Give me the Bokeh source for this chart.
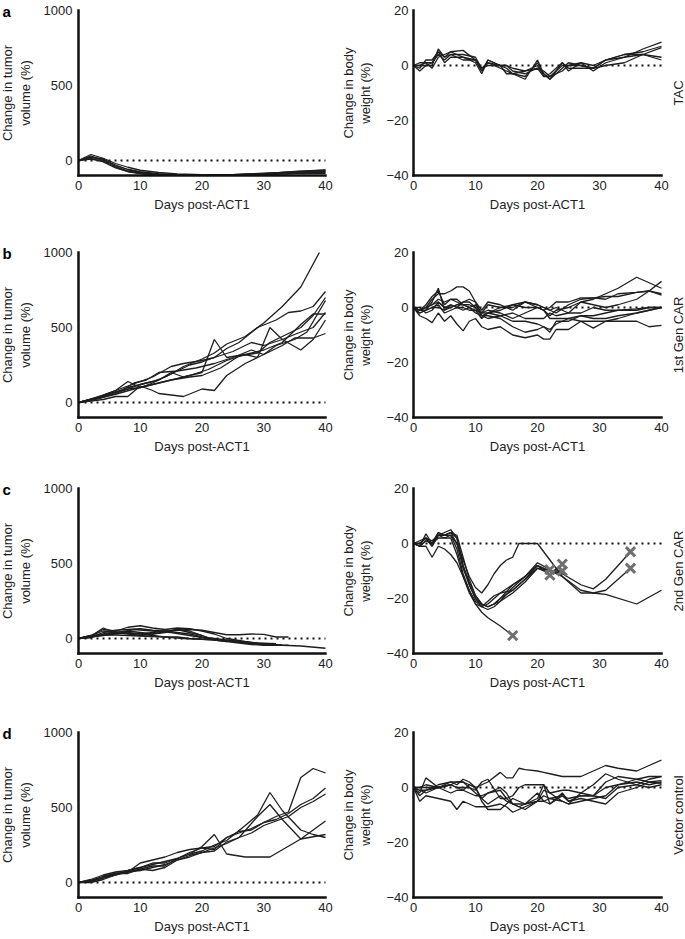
import math
from bokeh.plotting import figure
from bokeh.models import FixedTicker, Label, LinearAxis, Range1d
from bokeh.core.properties import value
from bokeh.core.property.dataspec import DataSpec
from bokeh.layouts import row, column
from bokeh.embed import file_html
from bokeh.resources import INLINE

# ---------------- data ----------------
panel_letters = ["a", "b", "c", "d"]
group_labels = ["TAC", "1st Gen CAR", "2nd Gen CAR", "Vector control"]
x_ticks = [0, 10, 20, 30, 40]
tumor_ticks = [0, 500, 1000]
tumor_limits = [-100, 1000]
weight_ticks = [-40, -20, 0, 20]
weight_limits = [-40, 20]
weight_tick_labels = {-40: "\u221240", -20: "\u221220", 0: "0", 20: "20"}

# a: TAC tumor volume (%)
a_tumor_days = [0, 2, 4, 6, 8, 10, 13, 16, 20, 25, 30, 35, 40]
a_tumor_vals = [
    [0, 40, 15, -20, -45, -65, -80, -90, -95, -95, -88, -75, -65],
    [0, 30, 5, -35, -60, -75, -88, -95, -97, -95, -85, -78, -70],
    [0, 20, 10, -30, -60, -80, -92, -97, -98, -96, -90, -80, -75],
    [0, 10, -5, -40, -70, -85, -95, -98, -98, -97, -92, -85, -80],
    [0, 25, 0, -45, -72, -86, -94, -97, -96, -94, -88, -72, -62],
    [0, 15, -10, -50, -75, -88, -95, -98, -98, -98, -94, -88, -85],
]
# a: TAC body weight (%)
a_weight_days = [0, 1, 2, 3, 4, 5, 6, 8, 10, 11, 12, 14, 15, 16, 18, 20, 21, 22, 24, 25, 27, 29, 31, 34, 37, 40]
a_weight_vals = [
    [0, -2, 0, 0, 6, 3, 5, 5.5, 2, -2, 2, 0, -1, -3, -5, 2, -3, -5, 1, -2, 1, -2, 1, 3, 6, 8.5],
    [0, 0, 1, 1, 4, 2, 4, 4, 3, -1, 1, 0, 0, -2, -3, -1, -4, -4, 0, 0, 0, -1, 2, 4, 4, 3],
    [0, -1, 2, 2, 5, 1, 3, 3, 1, -3, 2, 0, -3, -3, -2, 0, -3, -5, -1, 1, 0, -1, 0, 1, 4, 6.5],
    [0, 1, 1, -1, 3, 4, 5, 3, 2, -1, 0, 0, 0, -1, -2, -1, -2, -4, -2, 0, 1, 0, 2, 3, 4, 2],
    [0, 0, 0, 1, 5, 3, 4, 2, 2, -2, 1, -1, -2, -3, -4, 1, -4, -3, 1, -1, -1, -1, 2, 4, 5, 7],
]

# b: 1st Gen CAR tumor volume (%)
b_tumor_days = [
    [0, 2, 4, 6, 8, 10, 13, 15, 17, 20, 22, 24, 27, 30, 33, 36, 39],
    [0, 2, 4, 6, 8, 10, 12, 14, 16, 18, 20, 22, 24, 26, 29, 32, 34, 36, 38, 40],
    [0, 2, 4, 6, 8, 10, 12, 13, 15, 17, 20, 22, 24, 27, 29, 31, 33, 36, 38, 40],
    [0, 2, 4, 6, 8, 10, 12, 13, 15, 17, 20, 22, 24, 27, 29, 31, 33, 35, 38, 40],
    [0, 2, 4, 6, 8, 10, 12, 15, 17, 20, 22, 25, 28, 30, 33, 36, 38, 40],
    [0, 3, 5, 8, 10, 13, 15, 18, 20, 23, 26, 29, 31, 34, 36, 38, 40],
    [0, 2, 4, 7, 9, 11, 13, 16, 19, 22, 25, 28, 30, 32, 35, 37, 40],
    [0, 3, 6, 9, 12, 15, 18, 21, 24, 27, 30, 33, 36, 38, 40],
]
b_tumor_vals = [
    [0, 20, 40, 70, 100, 120, 150, 190, 240, 290, 330, 390, 440, 530, 640, 770, 1000],
    [0, 15, 35, 60, 90, 120, 140, 170, 210, 250, 270, 300, 360, 400, 500, 550, 600, 610, 640, 740],
    [0, 20, 50, 80, 140, 100, 130, 150, 200, 170, 200, 420, 300, 320, 300, 500, 420, 350, 420, 550],
    [0, 10, 20, 40, 40, 110, 80, 60, 50, 40, 90, 80, 180, 260, 300, 340, 380, 430, 430, 460],
    [0, 25, 50, 80, 110, 140, 170, 240, 260, 280, 300, 340, 400, 380, 420, 470, 500, 600],
    [0, 30, 60, 90, 100, 130, 150, 170, 180, 230, 310, 330, 400, 460, 500, 580, 700],
    [0, 20, 40, 80, 130, 150, 200, 210, 230, 260, 300, 350, 320, 380, 420, 470, 680],
    [0, 25, 55, 90, 120, 150, 180, 220, 280, 320, 350, 400, 520, 590, 590],
]
# b: 1st Gen CAR body weight (%)
b_weight_days = [0, 1, 2, 3, 4, 5, 6, 7, 8, 9, 10, 11, 12, 14, 16, 18, 20, 21, 22, 23, 25, 27, 29, 31, 33, 36, 38, 40]
b_weight_vals = [
    [0, -1, 1, 4, 6, 1, 3, 2, 1, 0, 1, -2, -1, -2, -4, -2, 0, -1, -3, -1, 0, 2, 3, 5, 7, 11, 9, 7],
    [0, -1, 0, 3, 5, 5, 6, 7.5, 7.5, 6, 2, -3, -2, -1, 1, 2, 1, 0, -1, -2, 1, 3, 3.5, 4, 4, 5.5, 6, 5],
    [0, -3, -4, -5.5, -2, -5, -3, -6, -8.5, -5, -4, -7, -8, -7, -10, -11, -10, -11.5, -11.5, -8, -8, -5, -7.5, -5, -5, -5, -7, -6.5],
    [0, -2, -1, 2, 7, -1, 0, 1, 2, 2, 0, -3, -3, -4, -7, -9, -8, -7, -9, -5, -5, -3, -4, -4, -3, -2, -1, 0],
    [0, 0, -2, -1, 2, 0, 1, 0, 2, 3, 2, -1, 2, 1, -1, 2, 1, 0, -1, 0, -2, 2, 1, 0, 1, 3, 6, 9.5],
    [0, -1, -1, 0, 1, -2, -1, 0, -1, 0, -2, -3, -4, -3, -5, -5, -6, -7, -8, -6, -4, -3, -3, -2, -1, -1, 0, 0],
    [0, -2, -1, 0, 0, -1, 1, 0, 0, -1, -1, -4, -2, -3, -2, -4, -4, -4, -2, -3, -2, -2, 0, -1, -1, -0.5, 0, 0],
    [0, -1, 0, 1, 2, 0, 0, 1, 1, 1, 0, -2, 1, 0, 1, 0, 0, -1, -4, -4, -4, -5, -5, -5, -4, -2, -1, 0],
    [0, -1, 0, 1, 3, 2, 3, 3, 1, 0, -1, -2, -2, 0, 0, 2, 0, -1, 0, 2, 2, 3.5, 3.5, 3, 5, 5.5, 6, 4.5],
]

# c: 2nd Gen CAR tumor volume (%)
c_tumor_days = [
    [0, 2, 4, 6, 8, 10, 12, 14, 16, 18, 20, 22, 24, 27, 30, 33, 36, 40],
    [0, 2, 4, 6, 8, 10, 12, 14, 16, 18, 20, 22, 24, 26, 28, 30, 32, 34],
    [0, 2, 4, 6, 8, 10, 12, 14, 16, 18, 20, 22, 24, 26, 28, 30, 32, 34],
    [0, 2, 4, 6, 8, 10, 12, 14, 16, 18, 20, 22, 24, 26, 28, 30],
    [0, 2, 4, 6, 8, 10, 12, 14, 16, 18, 20, 22, 24],
    [0, 2, 4, 6, 8, 10, 12, 14, 16, 18, 20, 22],
    [0, 3, 6, 9, 12, 15, 18, 21, 24, 27, 30, 33],
    [0, 2, 5, 8, 11, 14, 17, 20, 23, 26, 29, 32],
]
c_tumor_vals = [
    [0, 20, 60, 50, 75, 85, 70, 60, 70, 65, 50, 30, 0, -20, -35, -45, -50, -65],
    [0, 10, 40, 55, 60, 65, 55, 50, 55, 60, 55, 40, 25, 25, 30, 28, 10, 10],
    [0, 15, 70, 40, 50, 40, 30, 45, 60, 40, 20, -10, -20, -30, -40, -45, -45, -45],
    [0, 5, 30, 45, 35, 30, 40, 50, 40, 30, 10, 0, -10, -20, -30, -40],
    [0, 10, 20, 30, 40, 30, 20, 10, 10, 0, -5, -10, -20],
    [0, 20, 50, 40, 30, 20, 30, 40, 60, 50, 20, -10],
    [0, 25, 35, 60, 50, 40, 20, 0, -15, -30, -40, -45],
    [0, 15, 25, 20, 15, 10, 0, -5, -10, -20, -30, -35],
]
# c: 2nd Gen CAR body weight (%)
c_weight_days = [
    [0, 1, 2, 3, 4, 5, 6, 7, 8, 9, 10, 11, 12, 13, 14, 16, 18, 20, 22],
    [0, 1, 2, 3, 4, 5, 6, 7, 8, 9, 10, 11, 12, 13, 14, 16, 18, 20, 22],
    [0, 1, 2, 3, 4, 5, 6, 7, 8, 9, 10, 11, 12, 13, 14, 16, 18, 20, 22, 24],
    [0, 1, 2, 3, 4, 5, 6, 7, 8, 9, 10, 11, 12, 13, 14, 16, 18, 20, 22, 24],
    [0, 1, 2, 3, 4, 5, 6, 7, 8, 9, 10, 11, 12, 14, 16],
    [0, 1, 2, 3, 4, 5, 6, 7, 8, 9, 10, 11, 12, 13, 14, 15, 16, 17, 20, 22, 24, 27, 29, 31, 36, 40],
    [0, 1, 2, 3, 4, 5, 6, 7, 8, 9, 10, 11, 12, 13, 14, 16, 18, 20, 22, 24, 27, 29, 31, 33, 35],
    [0, 1, 2, 3, 4, 5, 6, 7, 8, 9, 10, 11, 12, 13, 14, 16, 18, 20, 22, 24, 27, 29, 31, 33, 35],
]
c_weight_vals = [
    [0, -1, 3.5, 0, 4, 3, 4, 0, -9, -15, -20, -22, -23, -22, -20, -15, -12, -7, -9.5],
    [0, 0, 2, -1, 3, 3, 3, -2, -11, -17, -21, -23, -22, -20, -18, -17, -13, -8, -11.5],
    [0, 1, 2, 1, 3, 4, 5, 2, -8, -14, -19, -22, -23, -22, -21, -18, -14, -9, -11, -7.5],
    [0, -1, 1, 0, 2, 2, 2, -4, -12, -18, -22, -23, -21, -19, -18, -15, -12, -8, -10, -10],
    [0, -1, -1, -5, -1, -2, -4, -7, -12, -17, -22, -25, -27, -30, -33.5],
    [0, 0, 2, -1, 3, 2, 3, 0, -6, -12, -16, -18, -15, -11, -8, -6, -5, 0, 0, -6, -12, -18, -18, -18.5, -22, -17],
    [0, -1, 1, 0, 3, 3, 4, 3, -5, -13, -19, -22, -23, -22, -20, -17, -13, -9, -10, -11, -15, -16.5, -13, -8, -3],
    [0, 0, 2, 0, 4, 3, 4, 2, -8, -15, -20, -23, -24, -23, -21, -16, -12, -8, -10, -12, -17, -18, -17, -13, -9],
]
# c: animals euthanised (X marks)
c_death_days = [16, 22, 22, 24, 24, 35, 35]
c_death_vals = [-33.5, -9.5, -11.5, -7.5, -10, -3, -9]

# d: Vector control tumor volume (%)
d_tumor_days = [
    [0, 2, 4, 6, 8, 10, 12, 14, 16, 18, 20, 22, 24, 26, 28, 30, 32, 34, 36, 38, 40],
    [0, 2, 4, 6, 8, 10, 12, 14, 16, 18, 20, 22, 24, 27, 29, 31, 33, 36, 38, 40],
    [0, 2, 4, 6, 8, 10, 12, 14, 16, 18, 20, 22, 24, 26, 29, 31, 33, 36, 40],
    [0, 2, 4, 6, 8, 10, 12, 14, 16, 18, 20, 22, 24, 27, 31, 36, 40],
    [0, 2, 4, 6, 8, 10, 12, 14, 16, 18, 20, 22, 24, 26, 28, 30, 32, 34, 36, 38, 40],
    [0, 2, 4, 6, 8, 10, 12, 14, 16, 18, 20, 22, 24, 26, 28, 30, 32, 34, 36, 38, 40],
]
d_tumor_vals = [
    [0, 10, 40, 60, 70, 130, 150, 170, 200, 220, 230, 240, 300, 330, 360, 400, 440, 470, 700, 760, 730],
    [0, 5, 30, 50, 80, 100, 120, 140, 160, 190, 210, 250, 280, 380, 450, 600, 480, 350, 320, 300],
    [0, 15, 40, 60, 70, 80, 100, 120, 150, 180, 200, 230, 260, 300, 440, 520, 420, 290, 320],
    [0, 0, 20, 50, 70, 90, 110, 110, 160, 190, 240, 320, 190, 170, 170, 290, 410],
    [0, 10, 30, 60, 60, 90, 80, 100, 150, 170, 200, 210, 270, 300, 330, 380, 410, 440, 500, 540, 590],
    [0, 20, 50, 70, 80, 100, 130, 130, 160, 200, 230, 220, 300, 340, 350, 400, 420, 460, 520, 560, 630],
]
# d: Vector control body weight (%)
d_weight_days = [0, 1, 2, 4, 6, 7, 8, 9, 10, 11, 12, 14, 15, 16, 17, 18, 20, 21, 22, 24, 25, 27, 29, 31, 33, 36, 38, 40]
d_weight_vals = [
    [0, -1, -2, 0, 2, 2, 2, 1, 0, 1, 2, 5.5, 3.5, 3.5, 7, 6.5, 6, 5.5, 5, 4, 4, 4, 6, 8, 7, 6, 8, 10],
    [0, -2, 3.5, 0, 1, 2, 2, 0, -2, -4, -6, -3, -5, -6, -7, -6, -2, -5, -6, -2, -5, -3, -3, -4, 0, 1, 3, 4],
    [0, -5, -3, -4, -5, -8, -5, -6, -7, -7, -7, -6, -7, -9, -8, -7, -5, -5, -4, -3, -5, -4, -5, -6, -2, 0, 2, 2.5],
    [0, -3, -1, 1, 2, 1, 3, 2, 0, -5, -8, -8, -6, -4, -5, -6, -5, -3, -4, -5, -6, -2, -3, 2, 4, 3, 4, 4],
    [0, 0, 0, 0, 1, 0, 0, 0, -1, 2, 3, -4, -4, -3, 0, 1, 1, 1, -6, -3, -4, -3, -3, 0, 1, 2, 1, 2],
    [0, -1, -1, 0, -2, -1, -1, 1, 0, -4, -2, 0, -2, -6, -7, -8, -5, -1, -2, -1, -1, -2, 1, 5, 3, 1, 0, 1],
    [0, 0, 1, 0, 1, 0, -1, -2, -3, -3, -2, -1, -4, -6, -6, -6, -4, 1, -2, -5, -6, -5, -4, -3, 1, 3, 2, 1.5],
]

# ---------------- layout / style ----------------
FONT = "Liberation Sans"
_font_prop = Label.lookup("text_font").property
LABEL_FONT = value(FONT) if isinstance(_font_prop, DataSpec) else FONT
FS = "13px"
TEXT_COLOR = "#222222"
LINE_COLOR = "#1e1e1e"
ROW_H = [232, 236, 244, 226]
ROW_TOP = [10, 20, 20, 20]
FRAME_H = 165
LEFT_W, RIGHT_W = 340, 345
LEFT_BL, LEFT_BR = 78, 15
RIGHT_BL, RIGHT_BR = 73, 24


def make_panel(w, h, bl, br, top, limits, yticks, ylabel, ylabel_standoff,
               label_standoff, overrides=None):
    ymin, ymax = limits
    xmin, xmax = x_ticks[0], x_ticks[-1]
    bottom = h - top - FRAME_H
    sx = (xmax - xmin) / (w - bl - br)
    sy = (ymax - ymin) / FRAME_H
    p = figure(width=w, height=h,
               x_range=Range1d(xmin - bl * sx, xmax + br * sx),
               y_range=Range1d(ymin - bottom * sy, ymax + top * sy),
               x_axis_type=None, y_axis_type=None,
               output_backend="svg", toolbar_location=None, min_border=0)
    p.outline_line_color = None
    p.background_fill_color = "white"
    p.border_fill_color = "white"

    xa = LinearAxis(fixed_location=ymin, bounds=(xmin, xmax),
                    ticker=FixedTicker(ticks=x_ticks), axis_label="Days post-ACT1")
    ya = LinearAxis(fixed_location=xmin, bounds=(ymin, ymax),
                    ticker=FixedTicker(ticks=yticks), axis_label=ylabel)
    for ax in (xa, ya):
        ax.axis_line_width = 2.5
        ax.axis_line_color = "#111111"
        ax.axis_line_cap = "square"
        ax.major_tick_line_color = None
        ax.minor_tick_line_color = None
        ax.major_tick_out = 0
        ax.major_tick_in = 0
        ax.minor_tick_out = 0
        ax.minor_tick_in = 0
        ax.major_label_text_font = FONT
        ax.major_label_text_font_size = FS
        ax.major_label_text_color = TEXT_COLOR
        ax.major_label_standoff = 5
        ax.axis_label_text_font = FONT
        ax.axis_label_text_font_size = FS
        ax.axis_label_text_font_style = "normal"
        ax.axis_label_text_color = TEXT_COLOR
    xa.axis_label_standoff = 4
    ya.major_label_standoff = label_standoff
    ya.axis_label_standoff = ylabel_standoff
    ya.axis_label_text_line_height = 1.15
    if overrides:
        ya.major_label_overrides = overrides
    p.add_layout(xa, "below")
    p.add_layout(ya, "left")

    # dotted zero reference line across the day axis
    p.segment(x0=[xmin], x1=[xmax], y0=[0], y1=[0], line_color="#111111",
              line_dash="2 4", line_width=2)
    return p


def add_series(p, days_list, vals_list):
    for d, v in zip(days_list, vals_list):
        n = min(len(d), len(v))
        p.line(d[:n], v[:n], line_color=LINE_COLOR, line_width=1.3)


tumor_days = [[a_tumor_days] * len(a_tumor_vals), b_tumor_days, c_tumor_days, d_tumor_days]
tumor_vals = [a_tumor_vals, b_tumor_vals, c_tumor_vals, d_tumor_vals]
weight_days = [[a_weight_days] * len(a_weight_vals), [b_weight_days] * len(b_weight_vals),
               c_weight_days, [d_weight_days] * len(d_weight_vals)]
weight_vals = [a_weight_vals, b_weight_vals, c_weight_vals, d_weight_vals]

rows = []
for i in range(4):
    h = ROW_H[i]
    top = ROW_TOP[i]

    pl = make_panel(LEFT_W, h, LEFT_BL, LEFT_BR, top, tumor_limits, tumor_ticks,
                    "Change in tumor\nvolume (%)", 8, 6)
    add_series(pl, tumor_days[i], tumor_vals[i])
    pl.add_layout(Label(x=x_ticks[0], y=tumor_limits[1], x_offset=-LEFT_BL + 2, y_offset=-1,
                        text=panel_letters[i], text_font=LABEL_FONT, text_font_size="15px",
                        text_font_style="bold", text_color="black",
                        text_align="left", text_baseline="alphabetic"))

    pr = make_panel(RIGHT_W, h, RIGHT_BL, RIGHT_BR, top, weight_limits, weight_ticks,
                    "Change in body\nweight (%)", 10, 5, weight_tick_labels)
    add_series(pr, weight_days[i], weight_vals[i])
    if i == 2:
        pr.scatter(c_death_days, c_death_vals, marker="x", size=13,
                   line_color="#6f6f6f", line_width=3)
    pr.add_layout(Label(x=x_ticks[-1], y=sum(weight_limits) / 2, x_offset=17, y_offset=0,
                        angle=math.pi / 2,
                        text=group_labels[i], text_font=LABEL_FONT, text_font_size=FS,
                        text_color=TEXT_COLOR, text_align="center", text_baseline="middle"))
    rows.append(row(pl, pr))

layout = column(*rows)
open("out.html", "w").write(file_html(layout, INLINE))
